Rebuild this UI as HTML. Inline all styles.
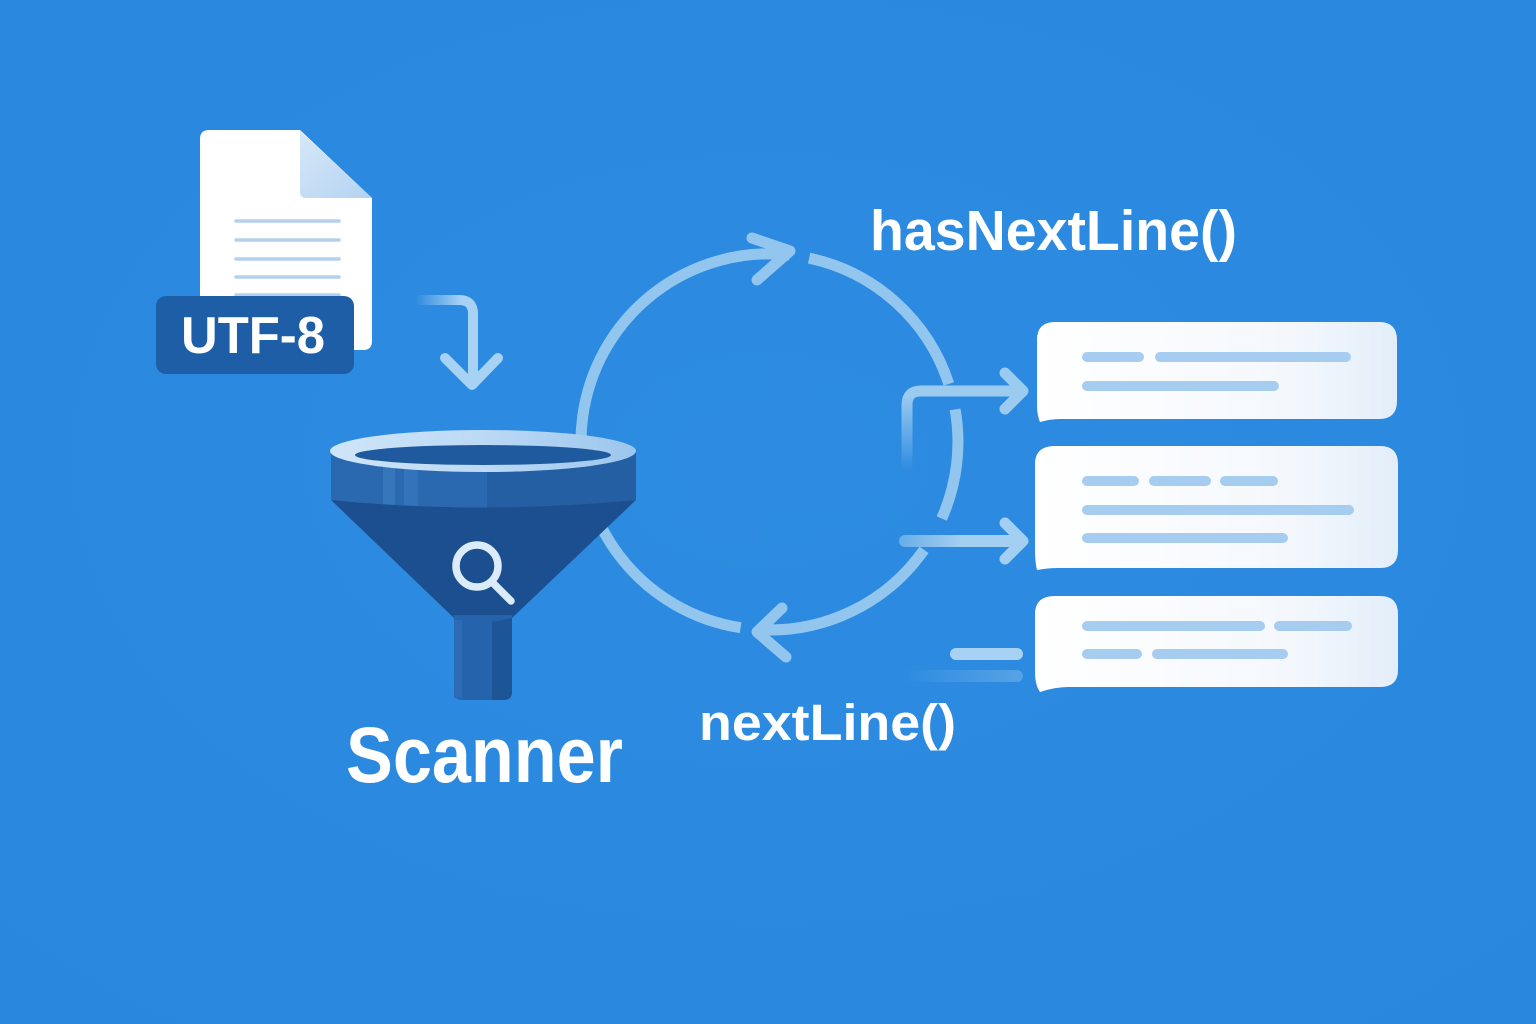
<!DOCTYPE html>
<html>
<head>
<meta charset="utf-8">
<style>
  html,body{margin:0;padding:0;background:#2b89de;}
  svg{display:block;}
  text{font-family:"Liberation Sans", "DejaVu Sans", sans-serif;font-weight:bold;fill:#ffffff;}
</style>
</head>
<body>
<svg width="1536" height="1024" viewBox="0 0 1536 1024" xmlns="http://www.w3.org/2000/svg">
  <defs>
    <radialGradient id="bg" cx="50%" cy="45%" r="75%">
      <stop offset="0" stop-color="#2d8ce1"/>
      <stop offset="1" stop-color="#2987dd"/>
    </radialGradient>
    <linearGradient id="fold" x1="0" y1="0" x2="1" y2="1">
      <stop offset="0" stop-color="#d6e8f8"/>
      <stop offset="1" stop-color="#b4d3f2"/>
    </linearGradient>
    <linearGradient id="rim" x1="0" y1="0" x2="1" y2="0">
      <stop offset="0" stop-color="#cfe5f8"/>
      <stop offset="0.5" stop-color="#bcd9f5"/>
      <stop offset="1" stop-color="#9cc6ee"/>
    </linearGradient>
    <linearGradient id="card" x1="0" y1="0" x2="1" y2="0">
      <stop offset="0" stop-color="#ffffff"/>
      <stop offset="0.7" stop-color="#f4f8fd"/>
      <stop offset="1" stop-color="#e3eef9"/>
    </linearGradient>
    <linearGradient id="fadeH" x1="415" y1="0" x2="462" y2="0" gradientUnits="userSpaceOnUse">
      <stop offset="0" stop-color="#a8d2f4" stop-opacity="0"/>
      <stop offset="1" stop-color="#a8d2f4" stop-opacity="1"/>
    </linearGradient>
    <linearGradient id="fadeV" x1="0" y1="470" x2="0" y2="395" gradientUnits="userSpaceOnUse">
      <stop offset="0" stop-color="#9ccbf0" stop-opacity="0"/>
      <stop offset="1" stop-color="#9ccbf0" stop-opacity="1"/>
    </linearGradient>
    <linearGradient id="fadeL" x1="900" y1="0" x2="960" y2="0" gradientUnits="userSpaceOnUse">
      <stop offset="0" stop-color="#a3cff2" stop-opacity="0.5"/>
      <stop offset="1" stop-color="#a3cff2" stop-opacity="1"/>
    </linearGradient>
    <linearGradient id="fadeB" x1="900" y1="0" x2="1020" y2="0" gradientUnits="userSpaceOnUse">
      <stop offset="0" stop-color="#a3cff2" stop-opacity="0"/>
      <stop offset="1" stop-color="#a3cff2" stop-opacity="0.35"/>
    </linearGradient>
  </defs>

  <rect x="0" y="0" width="1536" height="1024" fill="url(#bg)"/>

  <!-- Document -->
  <path d="M209,130 L300,130 L372,198 L372,341 Q372,350 363,350 L209,350 Q200,350 200,341 L200,139 Q200,130 209,130 Z" fill="#ffffff"/>
  <path d="M300,131 L372,198 L306,198 Q300,198 300,192 Z" fill="url(#fold)"/>
  <g stroke="#b3d1ef" stroke-width="3.5" stroke-linecap="round">
    <line x1="236" y1="221" x2="339" y2="221"/>
    <line x1="236" y1="240" x2="339" y2="240"/>
    <line x1="236" y1="259" x2="339" y2="259"/>
    <line x1="236" y1="277" x2="339" y2="277"/>
    <line x1="236" y1="295" x2="339" y2="295"/>
  </g>

  <!-- UTF-8 badge -->
  <rect x="156" y="296" width="198" height="78" rx="10" fill="#1d5ea7"/>
  <text x="181" y="353" font-size="52" textLength="144" lengthAdjust="spacingAndGlyphs">UTF-8</text>

  <!-- Down arrow -->
  <path d="M415,300 L459,300 Q473,300 473,314 L473,384" fill="none" stroke="url(#fadeH)" stroke-width="10" stroke-linecap="round"/>
  <path d="M473,330 L473,384" fill="none" stroke="#a8d2f4" stroke-width="10" stroke-linecap="round"/>
  <path d="M445,358 L472,385 L498,358" fill="none" stroke="#a8d2f4" stroke-width="10" stroke-linecap="round" stroke-linejoin="round"/>

  <!-- Cycle circle arcs: center (770,442) r 188 -->
  <g fill="none" stroke="#93c6ef" stroke-width="11" stroke-linecap="butt">
    <path d="M740.6,627.7 A188,188 0 0 1 789.7,255.0"/>
    <path d="M809.1,258.1 A188,188 0 0 1 948.8,383.9"/>
    <path d="M955.1,409.4 A188,188 0 0 1 941.7,518.5"/>
    <path d="M924.0,549.8 A188,188 0 0 1 756.9,629.5"/>
  </g>
  <g fill="none" stroke="#93c6ef" stroke-width="11" stroke-linecap="round" stroke-linejoin="round">
    <path d="M752,238 L790,251 L757,280"/>
    <path d="M782,608 L757,632 L786,657"/>
  </g>

  <!-- Bracket + arrows to cards -->
  <path d="M907,470 L907,405 Q907,391 921,391" fill="none" stroke="url(#fadeV)" stroke-width="11" stroke-linecap="round"/>
  <path d="M921,391 L1020,391" fill="none" stroke="#9ccbf0" stroke-width="11" stroke-linecap="round"/>
  <path d="M1005,373 L1023,391 L1005,409" fill="none" stroke="#9ccbf0" stroke-width="11" stroke-linecap="round" stroke-linejoin="round"/>

  <path d="M905,541 L1020,541" fill="none" stroke="url(#fadeL)" stroke-width="12" stroke-linecap="round"/>
  <path d="M1005,523 L1023,541 L1005,559" fill="none" stroke="#a3cff2" stroke-width="11" stroke-linecap="round" stroke-linejoin="round"/>

  <path d="M956,654 L1017,654" fill="none" stroke="#a8d2f4" stroke-width="12" stroke-linecap="round"/>
  <path d="M906,676 L1017,676" fill="none" stroke="url(#fadeB)" stroke-width="12" stroke-linecap="round"/>

  <!-- Funnel -->
  <path d="M331,451 L331,500 Q483,515 636,500 L636,451 Z" fill="#2a68b0"/>
  <path d="M487,451 L487,509 Q560,508 636,500 L636,451 Z" fill="#245ea3"/>
  <rect x="383" y="460" width="12" height="48" fill="#3a7abf" opacity="0.8"/>
  <rect x="404" y="460" width="14" height="49" fill="#3576bb" opacity="0.8"/>
  <path d="M331,500 Q483,515 636,500 L512,618 Q483,628 454,618 Z" fill="#1c4f8f"/>
  <path d="M454,615 L512,615 L512,692 Q512,700 504,700 L462,700 Q454,700 454,692 Z" fill="#2563ad"/>
  <path d="M492,622 L512,618 L512,692 Q512,700 504,700 L492,700 Z" fill="#1d5597"/>
  <rect x="454" y="620" width="8" height="78" fill="#2d6cb4"/>
  <ellipse cx="483" cy="451" rx="153" ry="21" fill="url(#rim)"/>
  <ellipse cx="483" cy="455" rx="128" ry="10" fill="#1f5a9e"/>
  <!-- magnifier -->
  <circle cx="477" cy="566" r="21" fill="none" stroke="#dcebf9" stroke-width="7.5"/>
  <line x1="493" y1="583" x2="511" y2="601" stroke="#dcebf9" stroke-width="7.5" stroke-linecap="round"/>

  <!-- Cards -->
  <path d="M1055,322 L1379,322 Q1397,322 1397,340 L1397,401 Q1397,419 1379,419 L1060,419 Q1050,419 1040,422 Q1037,415 1037,405 L1037,340 Q1037,322 1055,322 Z" fill="url(#card)"/>
  <path d="M1055,446 L1380,446 Q1398,446 1398,464 L1398,550 Q1398,568 1380,568 L1058,568 Q1048,568 1037,570 Q1035,562 1035,550 L1035,464 Q1035,446 1055,446 Z" fill="url(#card)"/>
  <path d="M1055,596 L1380,596 Q1398,596 1398,614 L1398,670 Q1398,687 1380,687 L1068,687 Q1055,687 1040,692 Q1035,685 1035,672 L1035,614 Q1035,596 1055,596 Z" fill="url(#card)"/>

  <g stroke="#a6cdf0" stroke-width="10" stroke-linecap="round">
    <line x1="1087" y1="357" x2="1139" y2="357"/>
    <line x1="1160" y1="357" x2="1346" y2="357"/>
    <line x1="1087" y1="386" x2="1274" y2="386"/>

    <line x1="1087" y1="481" x2="1134" y2="481"/>
    <line x1="1154" y1="481" x2="1206" y2="481"/>
    <line x1="1225" y1="481" x2="1273" y2="481"/>
    <line x1="1087" y1="510" x2="1349" y2="510"/>
    <line x1="1087" y1="538" x2="1283" y2="538"/>

    <line x1="1087" y1="626" x2="1260" y2="626"/>
    <line x1="1279" y1="626" x2="1347" y2="626"/>
    <line x1="1087" y1="654" x2="1137" y2="654"/>
    <line x1="1157" y1="654" x2="1283" y2="654"/>
  </g>

  <!-- Labels -->
  <text x="870" y="250" font-size="57" textLength="367" lengthAdjust="spacingAndGlyphs">hasNextLine()</text>
  <text x="699" y="740" font-size="51" textLength="257" lengthAdjust="spacingAndGlyphs">nextLine()</text>
  <text x="346" y="782" font-size="79" textLength="277" lengthAdjust="spacingAndGlyphs">Scanner</text>
</svg>
</body>
</html>
